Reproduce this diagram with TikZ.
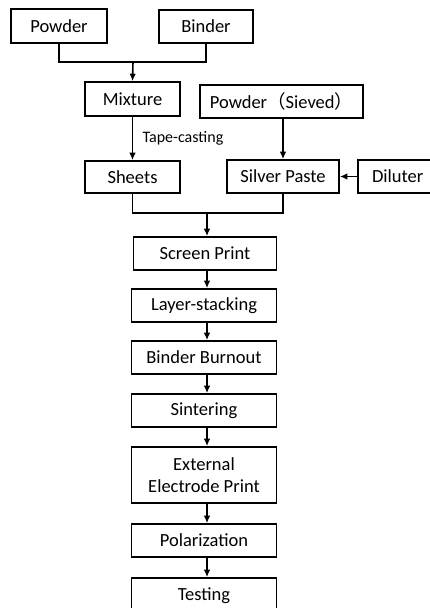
\documentclass[tikz,border=0pt]{standalone}
\usepackage{fontspec}
\setmainfont{Carlito}
\newfontfamily\cjk{Noto Sans CJK SC}
\usetikzlibrary{arrows.meta}
\tikzset{
  stepbox/.style={draw, line width=1.6pt, inner sep=0pt, font=\fontsize{18.5}{21.5}\selectfont,
    minimum width=#1, minimum height=33pt, align=center},
  stepbox/.default=95pt,
  flow/.style={line width=1.6pt, -{Latex[length=7.5pt,width=6.5pt]}},
  merge/.style={line width=1.6pt}
}
\begin{document}
\begin{tikzpicture}[x=1pt,y=-1pt]
  \useasboundingbox[fill=white] (0,0) rectangle (430,608);
  \clip (0,0) rectangle (430,608);
  % raw materials
  \node[stepbox=96pt, minimum height=34pt] (powder) at (59,26) {Powder};
  \node[stepbox=94pt] (binder) at (206,26.5) {Binder};
  \node[stepbox, minimum height=34pt] (mixture) at (132.5,99) {Mixture};
  \node[stepbox=163pt] (sieved) at (281.5,101.5) {Powder{\cjk （}Sieved{\cjk ）}};
  \node[stepbox, minimum height=32pt] (sheets) at (132.5,177) {Sheets};
  \node[stepbox=112pt] (paste) at (283,176.5) {Silver Paste};
  \node[stepbox=80pt, text width=74pt, align=left] (diluter) at (398,176.5) {\hspace*{11pt}Diluter};
  % main process
  \node[stepbox=143pt] (screen) at (205,253.5) {Screen Print};
  \node[stepbox=145pt] (stack) at (204,305.5) {Layer-stacking};
  \node[stepbox=145pt] (burnout) at (204,357.5) {Binder Burnout};
  \node[stepbox=145pt] (sinter) at (204,410.5) {Sintering};
  \node[stepbox=145pt, minimum height=56pt] (electrode) at (204,475) {External\\Electrode Print};
  \node[stepbox=145pt] (polar) at (204,540.5) {Polarization};
  \node[stepbox=145pt, minimum height=35pt] (testing) at (204,595.5) {Testing};
  % connections
  \coordinate (j1) at (133,62);
  \coordinate (j2) at (207,213);
  \draw[merge] (powder.south) |- (j1) -| (binder.south);
  \draw[flow] (j1) -- (mixture.north);
  \draw[flow] (mixture.south) -- node[right, xshift=6pt, font=\fontsize{16}{19}\selectfont] {Tape-casting} (sheets.north);
  \draw[flow] (sieved.south -| paste.north) -- (paste.north);
  \draw[flow] (diluter.west) -- (paste.east);
  \draw[merge] (sheets.south) |- (j2) -| (paste.south);
  \draw[flow] (j2) -- (j2 |- screen.north);
  \draw[flow] (screen.south -| j2) -- (stack.north -| j2);
  \draw[flow] (stack.south -| j2) -- (burnout.north -| j2);
  \draw[flow] (burnout.south -| j2) -- (sinter.north -| j2);
  \draw[flow] (sinter.south -| j2) -- (electrode.north -| j2);
  \draw[flow] (electrode.south -| j2) -- (polar.north -| j2);
  \draw[flow] (polar.south -| j2) -- (testing.north -| j2);
\end{tikzpicture}
\end{document}
